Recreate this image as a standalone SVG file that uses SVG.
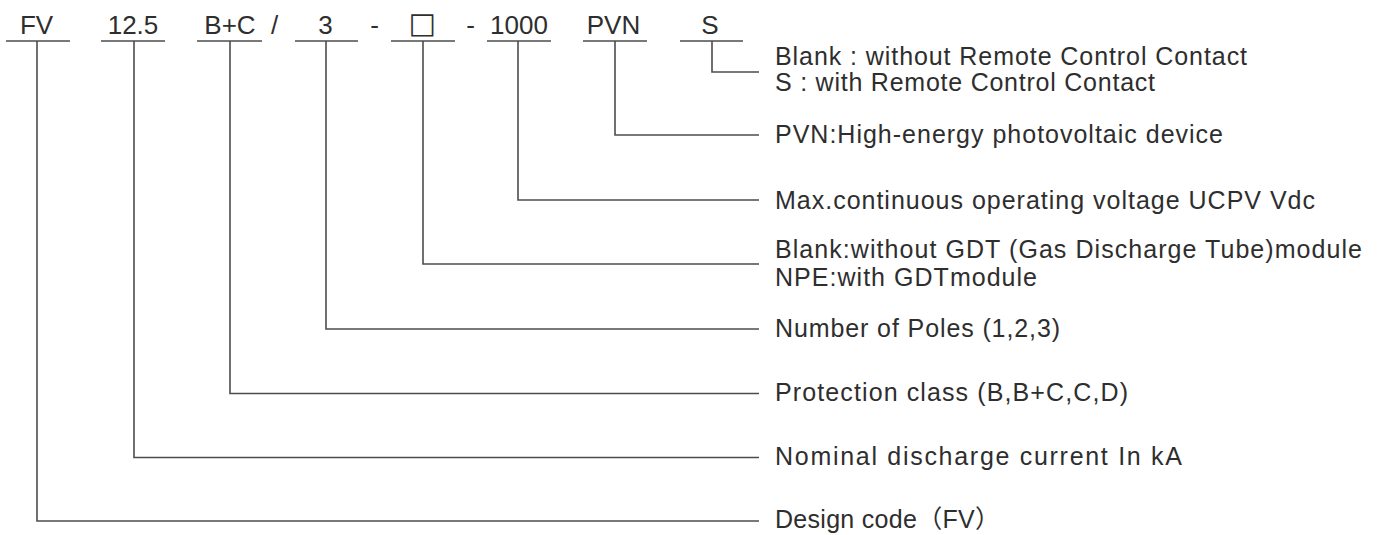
<svg xmlns="http://www.w3.org/2000/svg" width="1381" height="535" viewBox="0 0 1381 535">
<style>
.code{font-family:"Liberation Sans",Arial,sans-serif;font-size:26px;fill:#2e2e2e;text-anchor:middle}
.lbl{font-family:"Liberation Sans",Arial,"Noto Sans CJK SC",sans-serif;font-size:25px;fill:#2e2e2e}
.ln{fill:none;stroke:#4d4d4d;stroke-width:1.6}
</style>
<rect width="1381" height="535" fill="#ffffff"/>
<g id="code-row">
<g id="fv"><text class="code" x="36.5" y="34">FV</text><line class="ln" x1="6" y1="41" x2="70" y2="41"/></g>
<g id="current"><text class="code" x="133" y="34">12.5</text><line class="ln" x1="101" y1="41" x2="165" y2="41"/></g>
<g id="class"><text class="code" x="230" y="34">B+C</text><text class="code" x="274.5" y="34">/</text><line class="ln" x1="197" y1="41" x2="262" y2="41"/></g>
<g id="poles"><text class="code" x="325.5" y="34">3</text><text class="code" x="374.5" y="34">-</text><line class="ln" x1="295" y1="41" x2="358" y2="41"/></g>
<g id="gdt"><text class="code" x="422.5" y="33" style="font-family:'DejaVu Sans',sans-serif;font-size:29px">□</text><text class="code" x="470.5" y="34">-</text><line class="ln" x1="391" y1="41" x2="455" y2="41"/></g>
<g id="voltage"><text class="code" x="519" y="34">1000</text><line class="ln" x1="487" y1="41" x2="551" y2="41"/></g>
<g id="pvn"><text class="code" x="613.5" y="34">PVN</text><line class="ln" x1="583" y1="41" x2="647" y2="41"/></g>
<g id="remote"><text class="code" x="710" y="34">S</text><line class="ln" x1="680" y1="41" x2="743" y2="41"/></g>
</g>
<g id="connectors">
<polyline class="ln" points="712,41 712,72 759,72"/>
<polyline class="ln" points="615,41 615,135 759,135"/>
<polyline class="ln" points="518,41 518,200 759,200"/>
<polyline class="ln" points="423,41 423,264 759,264"/>
<polyline class="ln" points="326,41 326,329 759,329"/>
<polyline class="ln" points="230,41 230,393.5 759,393.5"/>
<polyline class="ln" points="134,41 134,457.5 759,457.5"/>
<polyline class="ln" points="37,41 37,521 759,521"/>
</g>
<g id="labels">
<g id="lbl-remote">
<text class="lbl" x="775" y="65" textLength="472" lengthAdjust="spacing">Blank : without Remote Control Contact</text>
<text class="lbl" x="775" y="91" textLength="380" lengthAdjust="spacing">S : with Remote Control Contact</text>
</g>
<g id="lbl-pvn"><text class="lbl" x="775" y="143" textLength="448" lengthAdjust="spacing">PVN:High-energy photovoltaic device</text></g>
<g id="lbl-voltage"><text class="lbl" x="775" y="209" textLength="540" lengthAdjust="spacing">Max.continuous operating voltage UCPV Vdc</text></g>
<g id="lbl-gdt">
<text class="lbl" x="775" y="258" textLength="587" lengthAdjust="spacing">Blank:without GDT (Gas Discharge Tube)module</text>
<text class="lbl" x="775" y="286" textLength="262" lengthAdjust="spacing">NPE:with GDTmodule</text>
</g>
<g id="lbl-poles"><text class="lbl" x="775" y="337" textLength="285" lengthAdjust="spacing">Number of Poles (1,2,3)</text></g>
<g id="lbl-class"><text class="lbl" x="775" y="401" textLength="353" lengthAdjust="spacing">Protection class (B,B+C,C,D)</text></g>
<g id="lbl-current"><text class="lbl" x="775" y="465" textLength="407" lengthAdjust="spacing">Nominal discharge current In kA</text></g>
<g id="lbl-fv"><text class="lbl" x="775" y="528" textLength="225" lengthAdjust="spacing">Design code（FV）</text></g>
</g>
</svg>
